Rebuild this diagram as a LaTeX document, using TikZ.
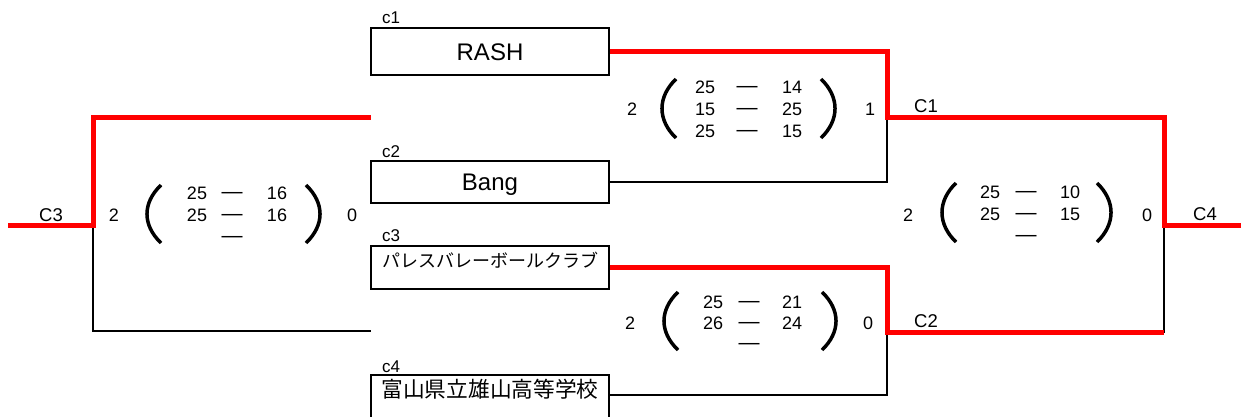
\documentclass[tikz,border=0pt]{standalone}
\usepackage{fontspec}
\setmainfont{Liberation Sans}
\newfontfamily\jpfont{Noto Sans CJK JP}
\newcommand\srow[7]{%
  \node[sc, anchor=base] (#1l) at (#2,#5) {#6};
  \node[dsh, anchor=base] (#1d) at (#3,#5) {—};
  \node[sc, anchor=base] (#1r) at (#4,#5) {#7};}
\newcommand\parpair[5]{%
  \draw[par] (#1+14,#3) .. controls (#1-4.7,#3+18) and (#1-4.7,#4-18) .. (#1+14,#4);
  \draw[par] (#2-14,#3) .. controls (#2+4.7,#3+18) and (#2+4.7,#4-18) .. (#2-14,#4);}
\begin{document}
\begin{tikzpicture}[x=1pt,y=-1pt,
  team/.style={draw, line width=2pt, inner sep=0pt, minimum width=238pt,
    font=\fontsize{24}{24}\selectfont, text height=17pt, text depth=0pt},
  jteam/.style={team, text height=8pt, text depth=8pt},
  tag/.style={font=\fontsize{17}{17}\selectfont, inner sep=0pt, anchor=base west},
  ctag/.style={font=\fontsize{18.5}{18}\selectfont, inner sep=0pt},
  sc/.style={font=\fontsize{18}{18}\selectfont, inner sep=0pt},
  dsh/.style={font=\fontsize{21}{21}\selectfont, inner sep=0pt, yshift=1pt},
  par/.style={line width=3.5pt},
  win/.style={draw=red, line width=5pt},
  lose/.style={draw=black, line width=1.8pt}]
\useasboundingbox (0,0) rectangle (1241,416);
\clip (0,0) rectangle (1241,416);
% team boxes
\node[team, minimum height=47pt] (c1) at (490,51.5) {RASH};
\node[team, minimum height=42pt] (c2) at (490,182) {Bang};
\node[jteam, minimum height=43pt] (c3) at (490,267.5) {\jpfont\fontsize{18}{18}\selectfont パレスバレーボールクラブ};
\node[jteam, minimum height=44pt] (c4) at (490,397) {\jpfont\fontsize{21.7}{22}\selectfont 富山県立雄山高等学校};
\node[tag] (t1) at (382,23) {c1};
\node[tag] (t2) at (382,157) {c2};
\node[tag] (t3) at (382,241) {c3};
\node[tag] (t4) at (382,372) {c4};
% junction coordinates
\coordinate (j1) at (887,117);
\coordinate (j2) at (887,332);
\coordinate (j4) at (1164,225);
\coordinate (j3) at (93,225);
\coordinate (e4) at (1241,225);
\coordinate (e3) at (8,225);
\coordinate (f1) at (371,117);
\coordinate (f2) at (371,331);
% connectors
\draw[lose] (c2.east) -| (j1);
\draw[lose] ([yshift=2pt]c4.east) -| (j2);
\draw[lose] (j2) -| (j4);
\draw[lose] (j3) |- (f2);
\draw[win] (c1.east) -| (j1) -| (j4) -- (e4);
\draw[win] (c3.east) -| (j2) -- (j2 -| j4);
\draw[win] (e3) -- (j3) |- (f1);
% round labels
\node[ctag] (C1) at (926,106) {C1};
\node[ctag] (C2) at (926,321) {C2};
\node[ctag] (C3) at (51,215) {C3};
\node[ctag] (C4) at (1205,214) {C4};
% match c1-c2
\node[sc] (m1a) at (632,109) {2};
\node[sc] (m1b) at (870,109) {1};
\parpair{662}{835}{79}{138}{}
\srow{m1x}{705}{747}{792}{93.5}{25}{14}
\srow{m1y}{705}{747}{792}{115.5}{15}{25}
\srow{m1z}{705}{747}{792}{137.5}{25}{15}
% match c3-c4
\node[sc] (m2a) at (630,323) {2};
\node[sc] (m2b) at (868,323) {0};
\parpair{664}{836}{292}{350}{}
\srow{m2x}{713}{749}{792}{308.5}{25}{21}
\srow{m2y}{713}{749}{792}{329.5}{26}{24}
\node[dsh, anchor=base] (m2zd) at (749,350.5) {—};
% match C3 (left)
\node[sc] (m3a) at (114,215) {2};
\node[sc] (m3b) at (352,215) {0};
\parpair{147}{320}{185}{243}{}
\srow{m3x}{197}{232}{277}{199.5}{25}{16}
\srow{m3y}{197}{232}{277}{221.5}{25}{16}
\node[dsh, anchor=base] (m3zd) at (232,243.5) {—};
% final
\node[sc] (m4a) at (908,215) {2};
\node[sc] (m4b) at (1147,215) {0};
\parpair{942}{1111}{183}{242}{}
\srow{m4x}{990}{1026}{1070}{198.5}{25}{10}
\srow{m4y}{990}{1026}{1070}{220.5}{25}{15}
\node[dsh, anchor=base] (m4zd) at (1026,242.5) {—};
\end{tikzpicture}
\end{document}
